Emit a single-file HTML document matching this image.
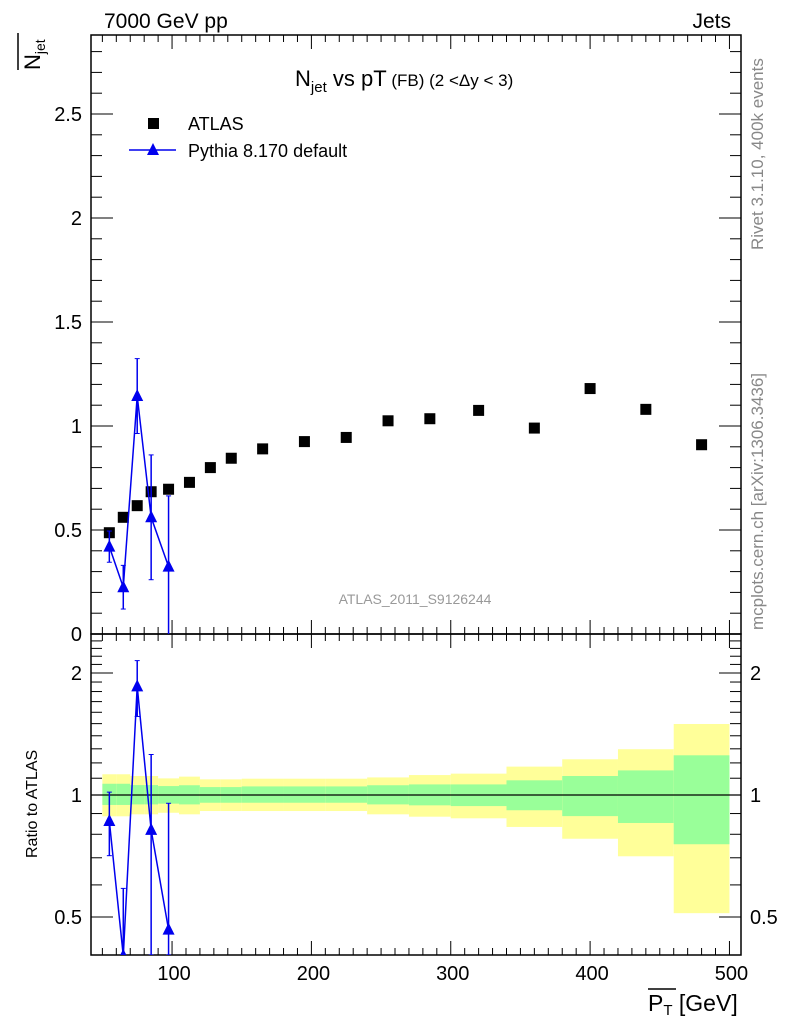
<!DOCTYPE html>
<html><head><meta charset="utf-8"><style>
html,body{margin:0;padding:0;background:#fff;width:786px;height:1024px;overflow:hidden}
svg{font-family:"Liberation Sans",sans-serif;display:block}
</style></head><body>
<svg id="c" width="786" height="1024" viewBox="0 0 786 1024" xmlns="http://www.w3.org/2000/svg" font-family="Liberation Sans, sans-serif">
<text x="104" y="28" font-size="21">7000 GeV pp</text>
<text x="731" y="28" font-size="21" text-anchor="end">Jets</text>
<text x="295" y="86" font-size="22">N<tspan font-size="15" dy="6">jet</tspan><tspan dy="-6"> vs pT</tspan><tspan font-size="17"> (FB) (2 &lt;Δy &lt; 3)</tspan></text>
<g>
<rect x="148" y="118" width="11" height="11" fill="#000"/>
<text x="188" y="130" font-size="18">ATLAS</text>
<line x1="129" x2="176" y1="150" y2="150" stroke="#0000ee" stroke-width="1.5"/>
<polygon points="153,143 147,155 159,155" fill="#0000ee"/>
<text x="188" y="157" font-size="18">Pythia 8.170 default</text>
</g>
<text x="415" y="604" font-size="14" fill="#999" text-anchor="middle">ATLAS_2011_S9126244</text>
<text transform="translate(763,250) rotate(-90)" font-size="17" fill="#888">Rivet 3.1.10,  400k events</text>
<text transform="translate(763,630) rotate(-90)" font-size="17" fill="#888">mcplots.cern.ch [arXiv:1306.3436]</text>
<g transform="translate(40,70) rotate(-90)">
<line x1="0" x2="37" y1="-22" y2="-22" stroke="#000" stroke-width="1.5"/>
<text x="0" y="0" font-size="22">N<tspan font-size="14" dy="5">jet</tspan></text>
</g>
<text transform="translate(37,858) rotate(-90)" font-size="16">Ratio to ATLAS</text>
<g>
<line x1="648" x2="676" y1="989" y2="989" stroke="#000" stroke-width="1.5"/>
<text x="648" y="1011" font-size="23">P<tspan font-size="15" dy="4">T</tspan><tspan dy="-4"> [GeV]</tspan></text>
</g>
</svg>
<script>
const xCenters=[55,65,75,85,97.5,112.5,127.5,142.5,165,195,225,255,285,320,360,400,440,480];
const binEdges=[50,60,70,80,90,105,120,135,150,180,210,240,270,300,340,380,420,460,500];
const atlasVals=[0.487,0.561,0.617,0.684,0.696,0.729,0.80,0.845,0.89,0.925,0.945,1.025,1.035,1.075,0.99,1.18,1.08,0.91];
const pyX=[55,65,75,85,97.5];
const pyVals=[0.42,0.225,1.144,0.561,0.324];
const pyErr=[0.075,0.105,0.18,0.30,0.34];
const bandYU=[1.125,1.125,1.114,1.114,1.099,1.11,1.093,1.093,1.097,1.097,1.097,1.105,1.12,1.129,1.175,1.225,1.297,1.497];
const bandGU=[1.066,1.066,1.058,1.058,1.052,1.057,1.046,1.046,1.05,1.05,1.05,1.057,1.062,1.062,1.087,1.114,1.15,1.253];
const bandGD=[0.945,0.945,0.948,0.948,0.952,0.948,0.957,0.957,0.957,0.957,0.957,0.948,0.943,0.939,0.917,0.887,0.853,0.756];
const bandYD=[0.886,0.886,0.896,0.896,0.904,0.896,0.913,0.913,0.913,0.913,0.913,0.896,0.884,0.876,0.834,0.78,0.706,0.511];
const xTicks=[100,200,300,400,500];
const yTicks=[0.5,1,1.5,2,2.5];
const yTickLabels=["0.5","1","1.5","2","2.5"];
const rTicks=[0.5,1,2];

const NS="http://www.w3.org/2000/svg";
const svg=document.getElementById('c');
const L=91,R=741,T=35,MB=634,RB=955;
const X=v=>32.7+1.3935*v;
const Y=v=>634-208*v;
const RY=r=>795-122*Math.log2(r);
function el(tag,attrs,parent){const e=document.createElementNS(NS,tag);for(const k in attrs)e.setAttribute(k,attrs[k]);(parent||svg).appendChild(e);return e;}
function txt(s,attrs){const e=el('text',attrs);e.textContent=s;return e;}

const defs=el('defs',{});
const c1=el('clipPath',{id:'cm'},defs);el('rect',{x:L,y:T,width:R-L,height:MB-T},c1);
const c2=el('clipPath',{id:'cr'},defs);el('rect',{x:L,y:MB,width:R-L,height:RB-MB},c2);

const gb=el('g',{'clip-path':'url(#cr)'});


for(let i=0;i<xCenters.length;i++){
  const x1=X(binEdges[i]),x2=X(binEdges[i+1]);
  const y=el('rect',{x:x1,y:RY(bandYU[i]),width:x2-x1,height:RY(bandYD[i])-RY(bandYU[i]),fill:'#ffff99'},gb);
  
  
  const g=el('rect',{x:x1,y:RY(bandGU[i]),width:x2-x1,height:RY(bandGD[i])-RY(bandGU[i]),fill:'#99ff99'},gb);
  
  
}
el('line',{x1:L,x2:R,y1:RY(1),y2:RY(1),stroke:'#000','stroke-width':1.2});

const f1=el('rect',{x:L,y:T,width:R-L,height:MB-T,fill:'none',stroke:'#000','stroke-width':1.5});


const f2=el('rect',{x:L,y:MB,width:R-L,height:RB-MB,fill:'none',stroke:'#000','stroke-width':1.5});



for(let v=40;v<=510;v+=10){
  const x=X(v);if(x<L||x>R)continue;
  const big=v%100===0;const len=big?14:7;
  for(const [yb,dir] of [[MB,-1],[T,1],[RB,-1],[MB,1]]){
    el('line',{x1:x,x2:x,y1:yb,y2:yb+dir*len,stroke:'#000','stroke-width':1});
  }
}
xTicks.forEach(v=>{const t=txt(String(v),{x:X(v)+2,y:980,'font-size':20,'text-anchor':'middle'});

});
for(let k=1;k<=28;k++){const v=k/10;const y=Y(v);if(y<T)continue;const big=k%5===0;const len=big?22:11;
  el('line',{x1:L,x2:L+len,y1:y,y2:y,stroke:'#000'});el('line',{x1:R,x2:R-len,y1:y,y2:y,stroke:'#000'});}
yTicks.forEach((v,i)=>{const t=txt(yTickLabels[i],{x:82,y:Y(v)+7,'font-size':20,'text-anchor':'end'});

});
txt('0',{x:82,y:641,'font-size':20,'text-anchor':'end'});
for(let k=4;k<=24;k++){const r=k/10;const y=RY(r);if(y<MB||y>RB)continue;const big=(k===5||k===10||k===20);const len=big?22:11;
  el('line',{x1:L,x2:L+len,y1:y,y2:y,stroke:'#000'});el('line',{x1:R,x2:R-len,y1:y,y2:y,stroke:'#000'});}
rTicks.forEach(r=>{const s=String(r);
 const a=txt(s,{x:82,y:RY(r)+7,'font-size':20,'text-anchor':'end'});
 
 
 const b=txt(s,{x:750,y:RY(r)+7,'font-size':20});
 
 });

atlasVals.forEach((v,i)=>{const m=el('rect',{x:X(xCenters[i])-5.5,y:Y(v)-5.5,width:11,height:11,fill:'#000'});

});

function tri(x,y,g){return el('polygon',{points:`${x},${y-7} ${x-6},${y+5} ${x+6},${y+5}`,fill:'#0000ee'},g);}
const gm=el('g',{'clip-path':'url(#cm)'});
el('polyline',{points:pyX.map((x,i)=>X(x)+','+Y(pyVals[i])).join(' '),fill:'none',stroke:'#0000ee','stroke-width':1.5},gm);
pyX.forEach((x,i)=>{const px=X(x),y1=Y(pyVals[i]+pyErr[i]),y2=Y(pyVals[i]-pyErr[i]);
 el('line',{x1:px,x2:px,y1:y1,y2:y2,stroke:'#0000ee','stroke-width':1.5},gm);
 el('line',{x1:px-2.5,x2:px+2.5,y1:y1,y2:y1,stroke:'#0000ee'},gm);
 el('line',{x1:px-2.5,x2:px+2.5,y1:y2,y2:y2,stroke:'#0000ee'},gm);
 const t=tri(px,Y(pyVals[i]),gm);
 
 });
const gr=el('g',{'clip-path':'url(#cr)'});
const ratio=pyVals.map((v,i)=>v/atlasVals[i]);
el('polyline',{points:pyX.map((x,i)=>X(x)+','+RY(ratio[i])).join(' '),fill:'none',stroke:'#0000ee','stroke-width':1.5},gr);
pyX.forEach((x,i)=>{const px=X(x),e=pyErr[i]/atlasVals[i];
 const y1=RY(ratio[i]+e),y2=Math.min(RY(Math.max(ratio[i]-e,0.3)),RB);
 el('line',{x1:px,x2:px,y1:y1,y2:y2,stroke:'#0000ee','stroke-width':1.5},gr);
 el('line',{x1:px-2.5,x2:px+2.5,y1:y1,y2:y1,stroke:'#0000ee'},gr);
 el('line',{x1:px-2.5,x2:px+2.5,y1:y2,y2:y2,stroke:'#0000ee'},gr);
 const t=tri(px,RY(ratio[i]),gr);
 
 });
</script>
</body></html>
